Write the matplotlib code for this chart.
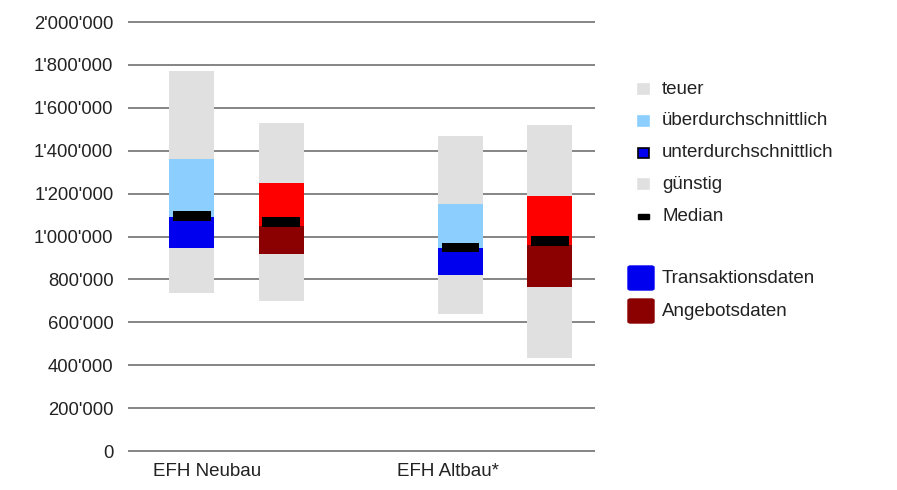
import matplotlib.pyplot as plt
from matplotlib.patches import Rectangle, FancyBboxPatch
from matplotlib.ticker import FuncFormatter

plt.rcParams['font.family'] = ['Liberation Sans', 'DejaVu Sans']

categories = ['EFH Neubau', 'EFH Altbau*']

# Transaktionsdaten
trans_min = [737e3, 639e3]
trans_q1 = [946e3, 820e3]
trans_mid = [1091e3, 946e3]
trans_q3 = [1361e3, 1152e3]
trans_max = [1772e3, 1468e3]
trans_median = [1095e3, 950e3]

# Angebotsdaten
offer_min = [699e3, 434e3]
offer_q1 = [918e3, 765e3]
offer_mid = [1050e3, 960e3]
offer_q3 = [1249e3, 1189e3]
offer_max = [1529e3, 1520e3]
offer_median = [1068e3, 979e3]

yticks = list(range(0, 2000001, 200000))

GREY = '#e0e0e0'
LIGHTBLUE = '#8ccfff'
BLUE = '#0000ee'
RED = '#ff0000'
DARKRED = '#8b0000'
TEXT = '#222222'

W, H = 897, 490
fig = plt.figure(figsize=(W / 100, H / 100), dpi=100)


def fx(px):
    return px / W


def fy(py):
    return 1 - py / H


ax = fig.add_axes([fx(128), fy(451), fx(595) - fx(128), fy(22) - fy(451)])
ax.set_xlim(-0.404, 1.335)
ax.set_ylim(0, 2e6)

ax.hlines(yticks, -0.404, 1.335, colors='#858585', linewidth=1.4, zorder=0, clip_on=False)

width = 0.168
offset = 0.166
xs = range(len(categories))


def box(x, lo, q1, mid, q3, hi, med, c_low, c_high):
    ax.bar(x, q1 - lo, width, bottom=lo, color=GREY, zorder=2)
    ax.bar(x, mid - q1, width, bottom=q1, color=c_low, zorder=2)
    ax.bar(x, q3 - mid, width, bottom=mid, color=c_high, zorder=2)
    ax.bar(x, hi - q3, width, bottom=q3, color=GREY, zorder=2)
    ax.bar(x, 44e3, width * 0.84, bottom=med - 22e3, color='black', zorder=3)


for i in xs:
    box(i - offset, trans_min[i], trans_q1[i], trans_mid[i], trans_q3[i],
        trans_max[i], trans_median[i], BLUE, LIGHTBLUE)
    box(i + offset, offer_min[i], offer_q1[i], offer_mid[i], offer_q3[i],
        offer_max[i], offer_median[i], DARKRED, RED)

for spine in ax.spines.values():
    spine.set_visible(False)
ax.set_xticks([])
ax.set_yticks(yticks)
ax.yaxis.set_major_formatter(FuncFormatter(lambda v, p: f'{int(v):,}'.replace(',', "'")))
ax.tick_params(axis='y', length=0, pad=10.5, labelsize=13.3, labelcolor=TEXT)

# Kategorienbeschriftung links unter den Gruppen
label_shift = [-0.311, -0.402]
for i, name in enumerate(categories):
    ax.text(i + label_shift[i], -95e3, name, ha='left', va='center',
            fontsize=13.5, color=TEXT)

# Legende
legend_items = [('teuer', GREY, None), ('überdurchschnittlich', LIGHTBLUE, None),
                ('unterdurchschnittlich', BLUE, 'black'), ('günstig', GREY, None),
                ('Median', 'black', None)]
for k, (label, col, edge) in enumerate(legend_items):
    yc = 89 + k * 31.8
    if label == 'Median':
        fig.patches.append(Rectangle((fx(638), fy(yc + 2.5)), fx(11), 5 / H,
                                     transform=fig.transFigure, color='black'))
    else:
        fig.patches.append(Rectangle((fx(638), fy(yc + 5)), fx(11), 10 / H,
                                     transform=fig.transFigure, facecolor=col,
                                     edgecolor=edge or col, linewidth=1.2))
    fig.text(fx(662), fy(yc), label, ha='left', va='center', fontsize=13.5, color=TEXT)

for yc, label, col in [(278, 'Transaktionsdaten', BLUE), (311, 'Angebotsdaten', DARKRED)]:
    fig.patches.append(FancyBboxPatch((fx(628), fy(yc + 12)), fx(26), 24 / H,
                                      boxstyle='round,pad=0,rounding_size=0.003',
                                      transform=fig.transFigure, color=col))
    fig.text(fx(662), fy(yc), label, ha='left', va='center', fontsize=13.5, color=TEXT)

fig.savefig('out.png', dpi=100)
